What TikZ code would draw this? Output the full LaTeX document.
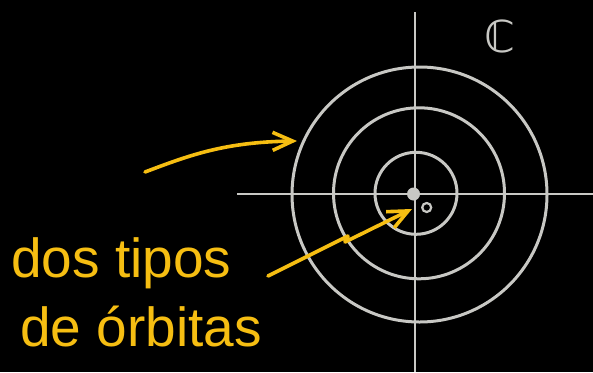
\documentclass[tikz,border=0pt]{standalone}
\usepackage{fontspec}
\setmainfont{Liberation Sans}
\newfontfamily\symfont{DejaVu Sans}
\usetikzlibrary{arrows.meta}
\definecolor{pen}{RGB}{246,190,18}
\definecolor{chalk}{RGB}{200,200,196}
\tikzset{
  axis/.style={chalk, line width=2pt},
  orbit/.style={chalk, line width=3pt},
  handarrow/.style={pen, line width=3.6pt, line cap=round, line join=round,
    -{Straight Barb[length=20pt, width=18pt, line width=3.6pt]}},
  label/.style={pen, font=\fontsize{55}{60}\selectfont, anchor=base west, inner sep=0pt}
}
\begin{document}
\begin{tikzpicture}[x=1pt, y=-1pt]
\fill[black] (0,0) rectangle (593,372);
\useasboundingbox (0,0) rectangle (593,372);
\coordinate (O) at (415,194);
% axes
\draw[axis] (237,194) -- (593,194);
\draw[axis] (415,12) -- (415,372);
% orbits
\draw[orbit] (416,193.3) circle[radius=41];
\draw[orbit] (419,193.3) circle[radius=85.5];
\draw[orbit] (419.5,194.5) circle[radius=127.5];
% center and small orbit point
\node[circle, fill=chalk, minimum size=13pt, inner sep=0pt] (center) at (413.5,194) {};
\node[circle, draw=chalk, line width=2.2pt, minimum size=9pt, inner sep=0pt] (pt) at (426.7,207.5) {};
% C label
\node[chalk, font=\symfont\fontsize{44}{46}\selectfont, inner sep=0pt] (C) at (500,36) {ℂ};
% texts
\node[label] (t1) at (11,277) {dos tipos};
\node[label] (t2) at (20,346) {de órbitas};
% arrows
\coordinate (a1s) at (145,172);
\coordinate (a1e) at (297,141);
\draw[handarrow] (a1s) .. controls (190,155) and (225,142) .. (a1e);
\coordinate (a2s) at (268,276);
\coordinate (a2m) at (348,236);
\coordinate (a2e) at (412,209);
\draw[handarrow] (a2s) -- (a2m) -- (345,242) -- (a2e);
\end{tikzpicture}
\end{document}
